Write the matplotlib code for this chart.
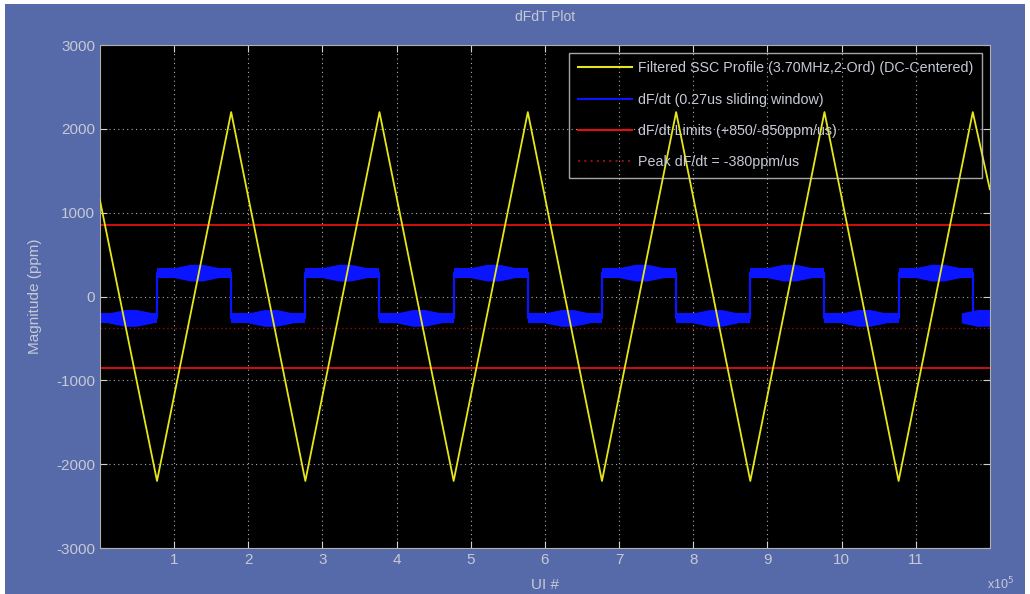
"""Recreación del gráfico dFdT: perfil SSC filtrado, dF/dt y límites."""

import matplotlib

matplotlib.use("Agg")
import matplotlib.pyplot as plt
from matplotlib.patches import Rectangle

# Perfil SSC (vértices del triángulo), eje x en unidades de 1e5 UI
ssc_x = [0.0, 0.77, 1.77, 2.77, 3.77, 4.77, 5.77, 6.77, 7.77, 8.77, 9.77, 10.77, 11.77, 12.0]
ssc_y = [1150, -2200, 2200, -2200, 2200, -2200, 2200, -2200, 2200, -2200, 2200, -2200, 2200, 1280]

# dF/dt (ventana deslizante de 0.27us): niveles por tramo
dfdt_edges = [0.0, 0.77, 1.77, 2.77, 3.77, 4.77, 5.77, 6.77, 7.77, 8.77, 9.77, 10.77, 11.77, 12.0]
dfdt_levels = [-255, 285, -255, 285, -255, 285, -255, 285, -255, 285, -255, 285, -255]
dfdt_ruido = 60      # semiancho de la banda de ruido (ppm)
dfdt_bulto = 100     # semiancho del ensanchamiento central (ppm)

limite_sup = 850
limite_inf = -850
pico_dfdt = -380

xticks = list(range(1, 12))
yticks = [-3000, -2000, -1000, 0, 1000, 2000, 3000]

FONDO = "#5669a8"
TEXTO = "#c6c9d6"
plt.rcParams["font.family"] = ["Liberation Sans", "DejaVu Sans"]
plt.rcParams["axes.unicode_minus"] = False

fig = plt.figure(figsize=(10.30, 5.94), dpi=100, facecolor="white")
fig.patches.append(Rectangle((0.005, 0.0), 0.99, 0.993, transform=fig.transFigure,
                             facecolor=FONDO, edgecolor="none", zorder=-10))
ax = fig.add_axes([0.097, 0.0774, 0.864, 0.8468])
ax.set_facecolor("black")

AZUL = "#0a14ff"
paso_x, paso_y = [], []
for i, nivel in enumerate(dfdt_levels):
    a, b = dfdt_edges[i], dfdt_edges[i + 1]
    paso_x += [a, b]
    paso_y += [nivel, nivel]
    # banda de ruido del tramo y ensanchamiento donde el perfil cruza por cero
    ax.fill_between([a, b], nivel - dfdt_ruido, nivel + dfdt_ruido, color=AZUL, lw=0, zorder=2)
    c = (a + b) / 2 + 0.03
    bx = [c - 0.3, c - 0.08, c + 0.08, c + 0.3]
    ax.fill_between(bx,
                    [nivel - dfdt_ruido, nivel - dfdt_bulto, nivel - dfdt_bulto, nivel - dfdt_ruido],
                    [nivel + dfdt_ruido, nivel + dfdt_bulto, nivel + dfdt_bulto, nivel + dfdt_ruido],
                    color=AZUL, lw=0, zorder=2)

ax.plot(ssc_x, ssc_y, color="#e6e619", lw=1.3, zorder=3,
        label="Filtered SSC Profile (3.70MHz,2-Ord) (DC-Centered)")
ax.plot(paso_x, paso_y, color=AZUL, lw=1.6, zorder=2,
        label="dF/dt (0.27us sliding window)")
ax.axhline(limite_sup, color="#e01010", lw=1.3, zorder=2.5,
           label="dF/dt Limits (+850/-850ppm/us)")
ax.axhline(limite_inf, color="#e01010", lw=1.3, zorder=2.5)
ax.axhline(pico_dfdt, color="#8a0f0f", lw=1.0, ls=(0, (1, 2)), zorder=1.5,
           label="Peak dF/dt = -380ppm/us")

ax.set_xlim(0, 12)
ax.set_ylim(-3000, 3000)
ax.set_xticks(xticks)
ax.set_yticks(yticks)
ax.grid(True, color="#d8d8d8", ls=(0, (1, 3)), lw=0.8, alpha=0.8)
ax.tick_params(direction="in", colors="#d0d0d0", labelcolor=TEXTO, labelsize=11,
               top=True, right=True, length=5)
for s in ax.spines.values():
    s.set_color("#b0b0b0")

ax.set_title("dFdT Plot", color=TEXTO, fontsize=10, pad=17)
ax.set_ylabel("Magnitude (ppm)", color=TEXTO, fontsize=11, labelpad=10)
ax.set_xlabel("UI #", color=TEXTO, fontsize=11, labelpad=8)
fig.text(0.985, 0.003, r"x10$^5$", color=TEXTO, fontsize=9, ha="right", va="bottom")

leg = ax.legend(loc="upper right", fontsize=10.3, facecolor="none", edgecolor="#d0d0d0",
                fancybox=False, labelcolor=TEXTO, handlelength=3.8,
                borderaxespad=0.55, labelspacing=1.2, handletextpad=0.4, borderpad=0.6)
leg.get_frame().set_linewidth(1.0)
for linea in leg.get_lines():
    linea.set_linewidth(1.5)

fig.savefig("out.png", dpi=100, facecolor=fig.get_facecolor())
